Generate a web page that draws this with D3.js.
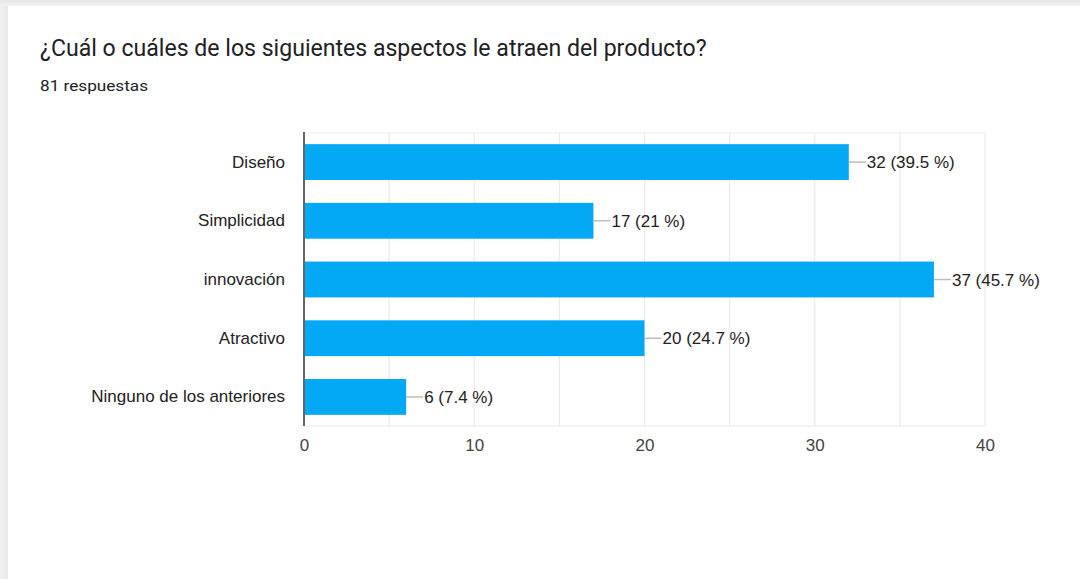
<!DOCTYPE html>
<html>
<head>
<meta charset="utf-8">
<script src="https://cdn.jsdelivr.net/npm/d3@7"></script>
<style>
  html, body { margin: 0; padding: 0; background: #ffffff; }
  svg { display: block; }
</style>
</head>
<body>
<svg id="chart" width="1080" height="579"></svg>
<script>
// Survey answers: how many respondents picked each aspect
const categories = ["Diseño", "Simplicidad", "innovación", "Atractivo", "Ninguno de los anteriores"];
const counts = [32, 17, 37, 20, 6];
const percents = ["39.5", "21", "45.7", "24.7", "7.4"];
const xTicks = [0, 10, 20, 30, 40];
const gridValues = [5, 10, 15, 20, 25, 30, 35, 40];
const title = "¿Cuál o cuáles de los siguientes aspectos le atraen del producto?";
const subtitle = "81 respuestas";

const svg = d3.select("#chart");
const W = 1080, H = 579;
const labelFont = "'Liberation Sans', Arial, sans-serif";

// Card background with soft grey frame at top and left
const defs = svg.append("defs");
const gTop = defs.append("linearGradient").attr("id", "topShade").attr("x1", 0).attr("y1", 0).attr("x2", 0).attr("y2", 1);
gTop.append("stop").attr("offset", "0%").attr("stop-color", "#e6e6e6");
gTop.append("stop").attr("offset", "100%").attr("stop-color", "#f3f3f3");
const gLeft = defs.append("linearGradient").attr("id", "leftShade").attr("x1", 0).attr("y1", 0).attr("x2", 1).attr("y2", 0);
gLeft.append("stop").attr("offset", "0%").attr("stop-color", "#f1f1f1");
gLeft.append("stop").attr("offset", "100%").attr("stop-color", "#e9e9e9");

svg.append("rect").attr("x", 0).attr("y", 0).attr("width", W).attr("height", H).attr("fill", "#ffffff");
svg.append("rect").attr("x", 0).attr("y", 0).attr("width", 8).attr("height", H).attr("fill", "url(#leftShade)");
svg.append("rect").attr("x", 0).attr("y", 0).attr("width", W).attr("height", 6).attr("fill", "url(#topShade)");

// Header
const titleText = svg.append("text")
  .attr("x", 40).attr("y", 56)
  .attr("fill", "#202124")
  .style("font-family", "Roboto, 'Noto Sans', Arial, sans-serif")
  .style("font-size", "19px")
  .text(title);
// fit the heading to its column width
const tw = titleText.node().getComputedTextLength();
titleText.style("font-size", (19 * 667 / tw).toFixed(2) + "px");

svg.append("text")
  .attr("x", 40).attr("y", 91)
  .attr("fill", "#202124")
  .attr("textLength", 108)
  .attr("lengthAdjust", "spacingAndGlyphs")
  .style("font-family", "Roboto, 'Noto Sans', Arial, sans-serif")
  .style("font-size", "15px")
  .text(subtitle);

// Plot area
const plot = { left: 304, right: 985, top: 133, bottom: 426 };

const x = d3.scaleLinear().domain([0, 40]).range([plot.left, plot.right]);
const y = d3.scaleBand().domain(categories).range([plot.top, plot.bottom])
  .paddingInner(0.39).paddingOuter(0.19);

const g = svg.append("g");

// vertical gridlines
g.selectAll("line.grid").data(gridValues).join("line")
  .attr("class", "grid")
  .attr("x1", d => x(d)).attr("x2", d => x(d))
  .attr("y1", plot.top).attr("y2", plot.bottom)
  .attr("stroke", "#ebebeb").attr("stroke-width", 1.2);

// top and bottom frame lines
g.selectAll("line.frame").data([plot.top, plot.bottom]).join("line")
  .attr("class", "frame")
  .attr("x1", plot.left).attr("x2", plot.right)
  .attr("y1", d => d).attr("y2", d => d)
  .attr("stroke", "#ececec").attr("stroke-width", 1.2);

// bars
g.selectAll("rect.bar").data(counts).join("rect")
  .attr("class", "bar")
  .attr("x", x(0))
  .attr("y", (d, i) => y(categories[i]))
  .attr("width", d => x(d) - x(0))
  .attr("height", y.bandwidth())
  .attr("fill", "#03a9f4");

// leader lines to the value labels
g.selectAll("line.leader").data(counts).join("line")
  .attr("class", "leader")
  .attr("x1", d => x(d)).attr("x2", d => x(d) + 17)
  .attr("y1", (d, i) => y(categories[i]) + y.bandwidth() / 2)
  .attr("y2", (d, i) => y(categories[i]) + y.bandwidth() / 2)
  .attr("stroke", "#bdbdbd").attr("stroke-width", 1.5);

// value labels
g.selectAll("text.value").data(counts).join("text")
  .attr("class", "value")
  .attr("x", d => x(d) + 18)
  .attr("y", (d, i) => y(categories[i]) + y.bandwidth() / 2)
  .attr("dy", "0.36em")
  .attr("fill", "#222222")
  .style("font-family", labelFont)
  .style("font-size", "17px")
  .text((d, i) => `${d} (${percents[i]} %)`);

// category axis
const yAxis = d3.axisLeft(y).tickSize(0).tickPadding(19);
const ya = svg.append("g").attr("transform", `translate(${plot.left},0)`).call(yAxis);
ya.select(".domain").remove();
ya.selectAll("text")
  .attr("fill", "#222222")
  .style("font-family", labelFont)
  .style("font-size", "17px");

// baseline
svg.append("line")
  .attr("x1", x(0)).attr("x2", x(0))
  .attr("y1", plot.top - 1).attr("y2", plot.bottom)
  .attr("stroke", "#666666").attr("stroke-width", 2);

// value axis
const xAxis = d3.axisBottom(x).tickValues(xTicks).tickSize(0).tickPadding(13);
const xa = svg.append("g").attr("transform", `translate(0,${plot.bottom})`).call(xAxis);
xa.select(".domain").remove();
xa.selectAll("text")
  .attr("fill", "#444444")
  .style("font-family", labelFont)
  .style("font-size", "17px");
</script>
</body>
</html>
